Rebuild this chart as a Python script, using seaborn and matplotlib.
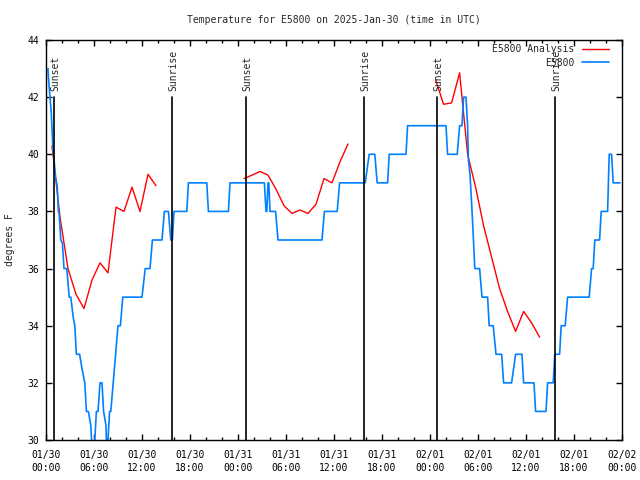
import numpy as np
import pandas as pd
import seaborn as sns
import matplotlib
matplotlib.use("Agg")
import matplotlib.pyplot as plt
import matplotlib.dates as mdates
from matplotlib.lines import Line2D

START = pd.Timestamp("2025-01-30 00:00")

# --------------- observed temperature (hours since 01/30 00:00 UTC) --------------- #
obs_hours = [0.25, 0.3, 0.5, 0.65, 0.85, 1.2, 1.4, 1.55, 1.65, 1.85, 2.05, 2.25, 2.6, 2.9,
             3.1, 3.4, 3.6, 3.8, 4.2, 4.5, 4.85, 5.05, 5.3, 5.6, 5.8, 6.0, 6.2, 6.3, 6.5,
             6.75, 7.0, 7.2, 7.5, 7.6, 7.75, 7.95, 8.1, 8.4, 8.7, 9.0, 9.3, 9.6, 12.0, 12.4,
             13.0, 13.3, 14.5, 14.8, 15.3, 15.6, 15.8, 16.0, 17.6, 17.8, 20.1, 20.3, 22.8,
             23.0, 27.3, 27.5, 27.6, 27.75, 27.85, 28.0, 28.7, 29.0, 34.5, 34.8, 36.4, 36.7,
             39.9, 40.4, 41.1, 41.4, 42.7, 42.9, 45.0, 45.2, 50.0, 50.2, 51.4, 51.7, 52.0,
             52.2, 52.5, 52.7, 52.8, 53.0, 53.2, 53.4, 53.6, 54.2, 54.5, 55.2, 55.4, 55.9,
             56.25, 56.96, 57.2, 58.2, 58.7, 59.5, 59.7, 61.0, 61.2, 62.5, 62.7, 63.4, 63.6,
             64.2, 64.4, 64.9, 65.2, 67.9, 68.2, 68.4, 68.6, 69.2, 69.4, 70.2, 70.4, 70.7,
             70.9, 71.75]
obs_temp = [43.0, 42.7, 42.0, 41.5, 40.3, 39.2, 38.9, 38.0, 37.9, 37.0, 36.9, 36.0, 36.0, 35.0,
            35.0, 34.3, 34.0, 33.0, 33.0, 32.5, 32.0, 31.0, 31.0, 30.5, 29.5, 29.5, 30.5, 31.0, 31.0,
            32.0, 32.0, 31.0, 30.5, 29.5, 30.0, 31.0, 31.0, 32.0, 33.0, 34.0, 34.0, 35.0, 35.0, 36.0,
            36.0, 37.0, 37.0, 38.0, 38.0, 37.0, 37.0, 38.0, 38.0, 39.0, 39.0, 38.0, 38.0,
            39.0, 39.0, 38.0, 38.0, 39.0, 39.0, 38.0, 38.0, 37.0, 37.0, 38.0, 38.0, 39.0,
            39.0, 40.0, 40.0, 39.0, 39.0, 40.0, 40.0, 41.0, 41.0, 40.0, 40.0, 41.0, 41.0,
            42.0, 42.0, 41.0, 39.8, 39.3, 38.3, 37.2, 36.0, 36.0, 35.0, 35.0, 34.0, 34.0,
            33.0, 33.0, 32.0, 32.0, 33.0, 33.0, 32.0, 32.0, 31.0, 31.0, 32.0, 32.0, 33.0,
            33.0, 34.0, 34.0, 35.0, 35.0, 36.0, 36.0, 37.0, 37.0, 38.0, 38.0, 40.0, 40.0,
            39.0, 39.0]

# --------------- analysis runs --------------- #
ana1_hours = [0.75, 1.75, 2.75, 3.75, 4.75, 5.75, 6.75, 7.75, 8.75, 9.75, 10.75, 11.75, 12.75, 13.75]
ana1_temp = [40.3, 37.8, 36.0, 35.1, 34.6, 35.6, 36.2, 35.85, 38.15, 38.0, 38.85, 38.0, 39.3, 38.9]
ana2_hours = [24.75, 25.75, 26.75, 27.75, 28.75, 29.75, 30.75, 31.75, 32.75, 33.75, 34.75, 35.75, 36.75, 37.75]
ana2_temp = [39.15, 39.27, 39.4, 39.27, 38.78, 38.2, 37.93, 38.05, 37.93, 38.25, 39.15, 39.0, 39.74, 40.36]
ana3_hours = [48.7, 49.7, 50.7, 51.7, 52.7, 53.7, 54.7, 55.7, 56.7, 57.7, 58.7, 59.7, 60.7, 61.7]
ana3_temp = [42.6, 41.75, 41.8, 42.85, 40.0, 38.85, 37.5, 36.4, 35.3, 34.5, 33.8, 34.5, 34.1, 33.6]

sunset_hours = [1.04, 25.0, 48.9]
sunrise_hours = [15.8, 39.8, 63.65]


def to_time(hours):
    return START + pd.to_timedelta(hours, unit="h")


obs = pd.DataFrame({"time": to_time(obs_hours), "temp": obs_temp})
ana = pd.concat([
    pd.DataFrame({"time": to_time(h), "temp": t, "run": i})
    for i, (h, t) in enumerate([(ana1_hours, ana1_temp), (ana2_hours, ana2_temp), (ana3_hours, ana3_temp)])
])

sns.set_style("ticks")
plt.rcParams["font.family"] = ["DejaVu Sans Mono"]
plt.rcParams["font.size"] = 7

fig = plt.figure(figsize=(6.4, 4.8), dpi=100)
ax = fig.add_axes([46 / 640, 1 - 440 / 480, 576 / 640, 400 / 480])

BLUE = "#0080ff"
sns.lineplot(data=ana, x="time", y="temp", units="run", estimator=None, sort=False,
             color="red", lw=1.0, ax=ax, legend=False)
sns.lineplot(data=obs, x="time", y="temp", estimator=None, sort=False,
             color=BLUE, lw=1.2, ax=ax, legend=False)

# sunrise / sunset markers
for lab, hrs in (("Sunset", sunset_hours), ("Sunrise", sunrise_hours)):
    for h in hrs:
        t = to_time(h)
        ax.plot([t, t], [30, 42], color="black", lw=1.2)
        ax.text(t + pd.Timedelta(minutes=10), 42.2, lab, rotation=90, ha="center", va="bottom",
                fontsize=7)

ax.set_xlim(START, START + pd.Timedelta(days=3))
ax.set_ylim(30, 44)
ax.set_yticks(np.arange(30, 45, 2))
ax.xaxis.set_major_locator(mdates.HourLocator(byhour=[0, 6, 12, 18]))
ax.xaxis.set_minor_locator(mdates.HourLocator(interval=2))
ax.xaxis.set_major_formatter(mdates.DateFormatter("%m/%d\n%H:%M"))

ax.tick_params(which="both", direction="in", top=True, right=True, colors="black",
               labelsize=7, width=1)
ax.tick_params(which="major", length=4, pad=5)
ax.tick_params(axis="x", which="major", pad=7)
ax.tick_params(which="minor", length=2)
for lbl in ax.get_xticklabels():
    lbl.set_linespacing(1.4)
for sp in ax.spines.values():
    sp.set_visible(True)
    sp.set_color("black")
    sp.set_linewidth(1)

ax.set_xlabel("")
ax.set_ylabel("degrees F", fontsize=7)
ax.yaxis.set_label_coords(-31 / 576, 0.5)
ax.set_title("Temperature for E5800 on 2025-Jan-30 (time in UTC)", fontsize=7, pad=12)

handles = [Line2D([], [], color="red", lw=1.0), Line2D([], [], color=BLUE, lw=1.2)]
ax.legend(handles, ["E5800 Analysis", "E5800"], loc="upper right",
          bbox_to_anchor=((609 - 46) / 576, (440 - 44) / 400), frameon=False,
          markerfirst=False, borderpad=0, borderaxespad=0, handlelength=2.8,
          handletextpad=0.8, labelspacing=0.4, fontsize=7)

fig.savefig("out.png", dpi=100)
